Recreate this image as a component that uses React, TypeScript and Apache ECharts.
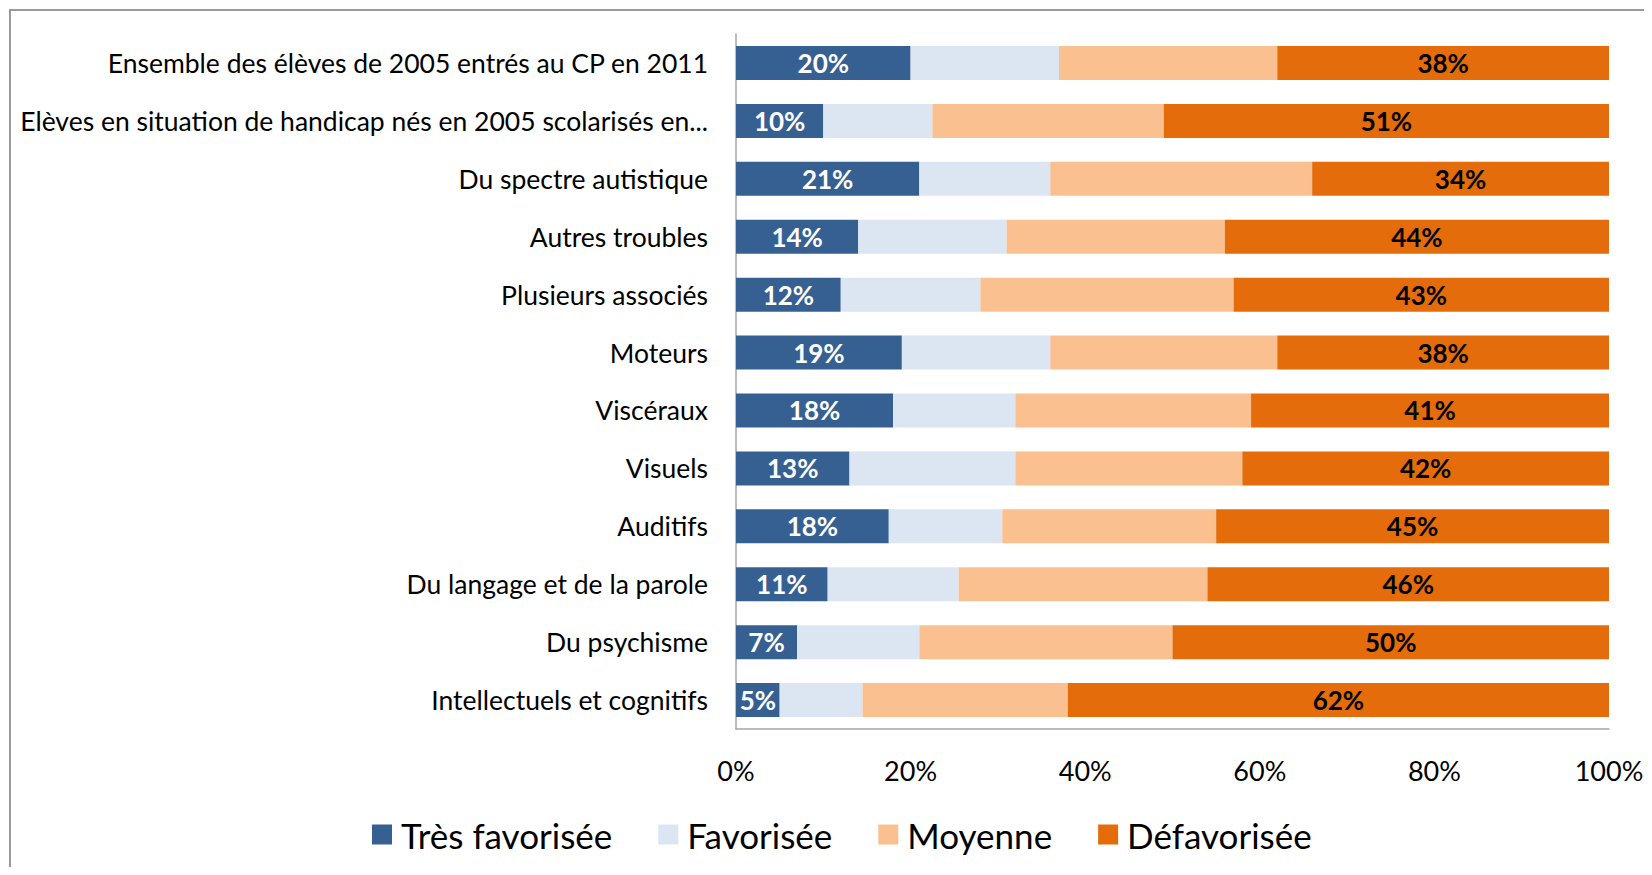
import React, { useEffect, useRef } from "react";
import * as echarts from "echarts";

const categories = [
  "Ensemble des élèves de 2005 entrés au CP en 2011",
  "Elèves en situation de handicap nés en 2005 scolarisés en...",
  "Du spectre autistique",
  "Autres troubles",
  "Plusieurs associés",
  "Moteurs",
  "Viscéraux",
  "Visuels",
  "Auditifs",
  "Du langage et de la parole",
  "Du psychisme",
  "Intellectuels et cognitifs",
];

const tresFavorisee = [20, 10, 21, 14, 12, 19, 18, 13, 17.5, 10.5, 7, 5];
const favorisee = [17, 12.5, 15, 17, 16, 17, 14, 19, 13, 15, 14, 9.5];
const moyenne = [25, 26.5, 30, 25, 29, 26, 27, 26, 24.5, 28.5, 29, 23.5];
const defavorisee = [38, 51, 34, 44, 43, 38, 41, 42, 45, 46, 50, 62];

const xTicks = [0, 20, 40, 60, 80, 100];

const FONT = "Lato, 'Open Sans', sans-serif";

export default function App() {
  const ref = useRef<HTMLDivElement>(null);
  useEffect(() => {
    if (!ref.current) return;
    const chart = echarts.init(ref.current, null, { renderer: "svg" });
    const pct = (p: any) => Math.round(p.value) + "%";
    chart.setOption({
      animation: false,
      backgroundColor: "#ffffff",
      textStyle: { fontFamily: FONT },
      graphic: [
        {
          type: "rect",
          shape: { x: 10, y: 10, width: 1700, height: 900 },
          style: { fill: "none", stroke: "#9a9a9a", lineWidth: 2 },
          silent: true,
        },
      ],
      grid: { left: 736, right: 43, top: 34, bottom: 146, containLabel: false },
      legend: {
        left: 367,
        top: 812,
        itemWidth: 20,
        itemHeight: 20,
        itemGap: 46,
        icon: "rect",
        textStyle: { fontSize: 35, color: "#000", fontFamily: FONT, padding: [0, 0, 0, 4] },
        data: ["Très favorisée", "Favorisée", "Moyenne", "Défavorisée"],
      },
      xAxis: {
        type: "value",
        min: xTicks[0],
        max: xTicks[xTicks.length - 1],
        interval: 20,
        axisLine: { show: true, lineStyle: { color: "#a6a6a6", width: 1.5 } },
        axisTick: { show: false },
        splitLine: { show: false },
        axisLabel: { formatter: "{value}%", fontSize: 27, color: "#000", margin: 28, fontFamily: FONT },
      },
      yAxis: {
        type: "category",
        inverse: true,
        data: categories,
        axisLine: { show: true, lineStyle: { color: "#a6a6a6", width: 1.5 } },
        axisTick: { show: false },
        axisLabel: { fontSize: 26.5, color: "#000", margin: 28, fontFamily: FONT },
      },
      series: [
        {
          name: "Très favorisée",
          type: "bar",
          stack: "t",
          barWidth: 34,
          data: tresFavorisee,
          itemStyle: { color: "#376092" },
          label: { show: true, position: "inside", formatter: pct, color: "#fff", fontWeight: "bold", fontSize: 26, fontFamily: FONT },
        },
        {
          name: "Favorisée",
          type: "bar",
          stack: "t",
          barWidth: 34,
          data: favorisee,
          itemStyle: { color: "#dce6f2" },
        },
        {
          name: "Moyenne",
          type: "bar",
          stack: "t",
          barWidth: 34,
          data: moyenne,
          itemStyle: { color: "#fac090" },
        },
        {
          name: "Défavorisée",
          type: "bar",
          stack: "t",
          barWidth: 34,
          data: defavorisee,
          itemStyle: { color: "#e46c0a" },
          label: { show: true, position: "inside", formatter: pct, color: "#000", fontWeight: "bold", fontSize: 26, fontFamily: FONT },
        },
      ],
    });
    return () => chart.dispose();
  }, []);
  return <div ref={ref} style={{ width: 1652, height: 875, margin: -8 }} />;
}
